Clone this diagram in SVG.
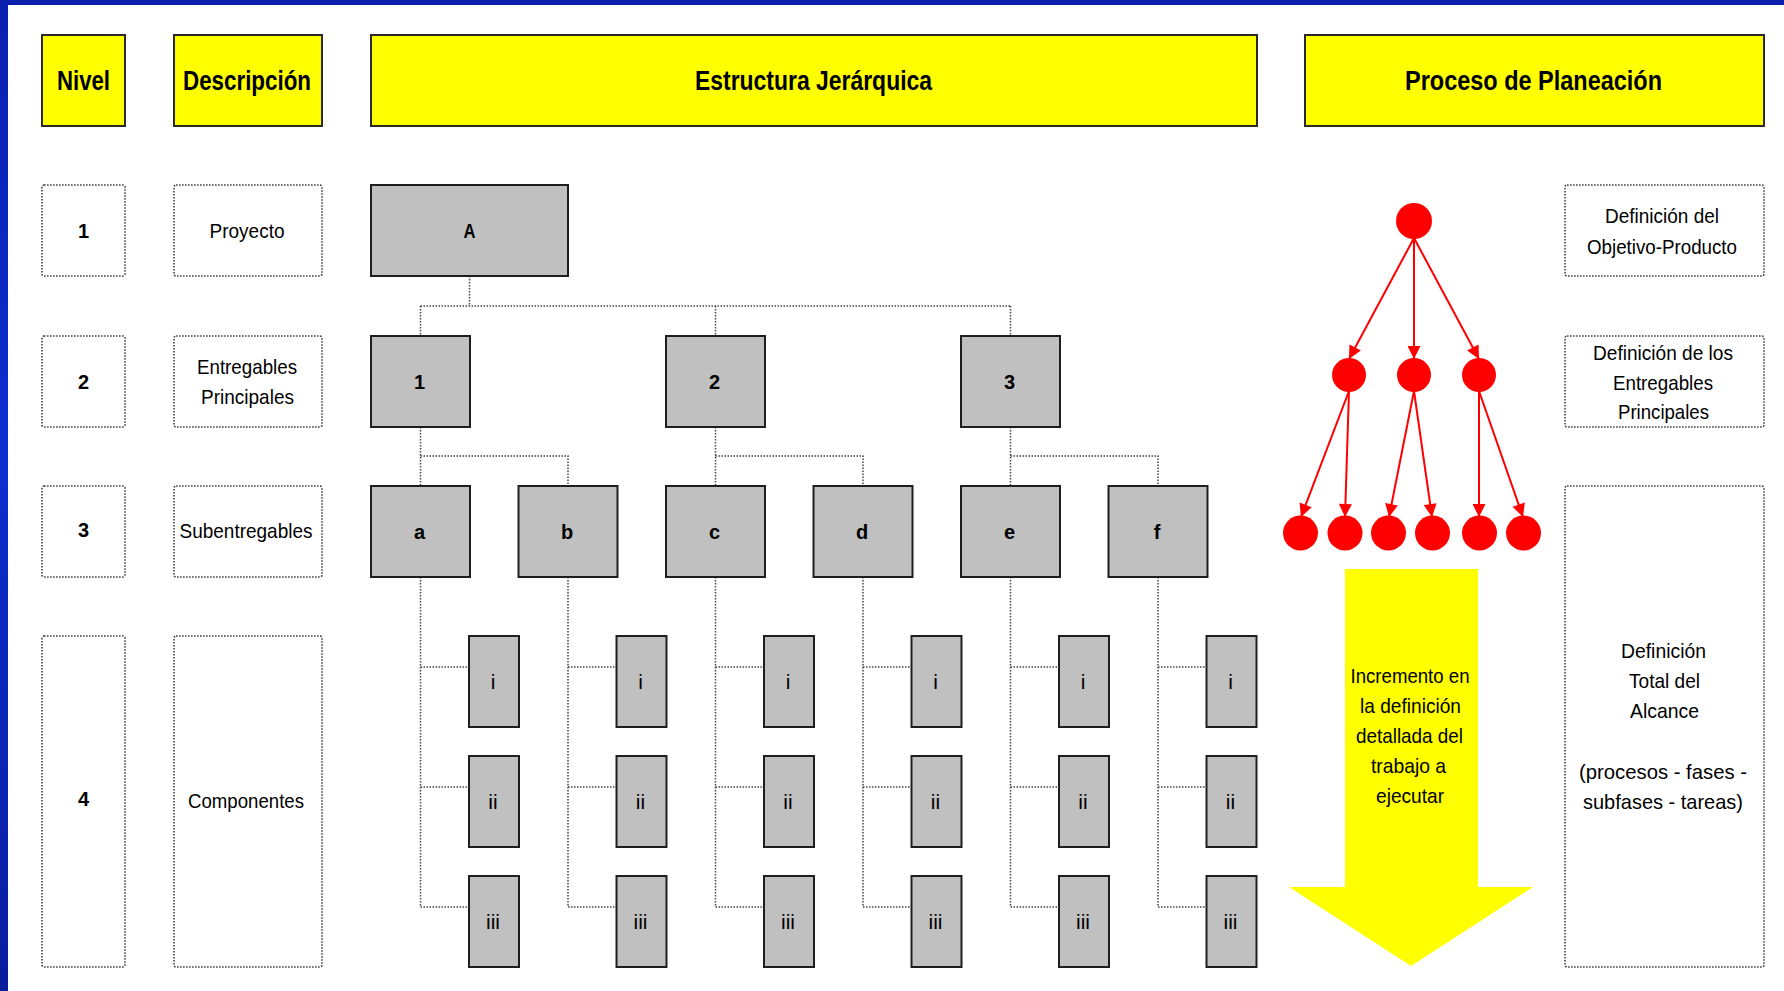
<svg xmlns="http://www.w3.org/2000/svg" width="1784" height="991" viewBox="0 0 1784 991">
<defs>
<style>
.hdr{fill:#ffff00;stroke:#2a2a2a;stroke-width:2}
.lvl{fill:#ffffff;stroke:#444;stroke-width:1.6;stroke-dasharray:1.6,1.4}
.node{fill:#c0c0c0;stroke:#1e1e1e;stroke-width:2}
.conn{fill:none;stroke:#444;stroke-width:1.5;stroke-dasharray:1.5,1.5}
.red{stroke:#ff0000;stroke-width:2;fill:none}
.dot{fill:#ff0000}
.th{font-family:"Liberation Sans",Arial,sans-serif;font-weight:bold;font-size:27px;fill:#000;text-anchor:middle;dominant-baseline:central}
.nb{font-family:"Liberation Sans",Arial,sans-serif;font-weight:bold;font-size:20px;fill:#000;text-anchor:middle;dominant-baseline:central}
.num{font-family:"Liberation Sans",Arial,sans-serif;font-weight:bold;font-size:20px;fill:#000;text-anchor:middle;dominant-baseline:central}
.tx{font-family:"Liberation Sans",Arial,sans-serif;font-size:21px;fill:#000;text-anchor:middle;dominant-baseline:central}
</style>
<linearGradient id="blue" x1="0" y1="0" x2="0" y2="1">
<stop offset="0" stop-color="#0a1fae"/>
<stop offset="0.45" stop-color="#0c2fd0"/>
<stop offset="1" stop-color="#081c9e"/>
</linearGradient>
<marker id="ah" viewBox="0 0 10 10" refX="10" refY="5" markerUnits="userSpaceOnUse" markerWidth="15" markerHeight="13" orient="auto">
<path d="M0,0 L10,5 L0,10 z" fill="#ff0000"/>
</marker>
</defs>
<rect x="0" y="0" width="1784" height="991" fill="#ffffff"/>
<rect x="0" y="0" width="1784" height="5" fill="#0a20aa"/>
<rect x="0" y="0" width="8" height="991" fill="url(#blue)"/>

<g id="headers">
<g id="h-nivel"><rect class="hdr" x="42" y="35" width="83" height="91"/><text class="th" x="83.5" y="80.5" textLength="53" lengthAdjust="spacingAndGlyphs">Nivel</text></g>
<g id="h-descripcion"><rect class="hdr" x="174" y="35" width="148" height="91"/><text class="th" x="247" y="80.5" textLength="128" lengthAdjust="spacingAndGlyphs">Descripción</text></g>
<g id="h-estructura"><rect class="hdr" x="371" y="35" width="886" height="91"/><text class="th" x="813.5" y="80.5" textLength="237" lengthAdjust="spacingAndGlyphs">Estructura Jerárquica</text></g>
<g id="h-proceso"><rect class="hdr" x="1305" y="35" width="459" height="91"/><text class="th" x="1533.5" y="80.5" textLength="257" lengthAdjust="spacingAndGlyphs">Proceso de Planeación</text></g>
</g>

<g id="levels">
<g id="lvl1"><rect class="lvl" x="42" y="185" width="83" height="91" rx="2"/><text class="num" x="83.5" y="230.5">1</text></g>
<g id="lvl2"><rect class="lvl" x="42" y="336" width="83" height="91" rx="2"/><text class="num" x="83.5" y="381.5">2</text></g>
<g id="lvl3"><rect class="lvl" x="42" y="486" width="83" height="91" rx="2"/><text class="num" x="83.5" y="530">3</text></g>
<g id="lvl4"><rect class="lvl" x="42" y="636" width="83" height="331" rx="2"/><text class="num" x="83.5" y="799">4</text></g>
<g id="desc1"><rect class="lvl" x="174" y="185" width="148" height="91" rx="2"/><text class="tx" x="247" y="230" textLength="75" lengthAdjust="spacingAndGlyphs">Proyecto</text></g>
<g id="desc2"><rect class="lvl" x="174" y="336" width="148" height="91" rx="2"/><text class="tx" x="247" y="366" textLength="100" lengthAdjust="spacingAndGlyphs">Entregables</text><text class="tx" x="247.5" y="396" textLength="93" lengthAdjust="spacingAndGlyphs">Principales</text></g>
<g id="desc3"><rect class="lvl" x="174" y="486" width="148" height="91" rx="2"/><text class="tx" x="246" y="530" textLength="133" lengthAdjust="spacingAndGlyphs">Subentregables</text></g>
<g id="desc4"><rect class="lvl" x="174" y="636" width="148" height="331" rx="2"/><text class="tx" x="246" y="800" textLength="116" lengthAdjust="spacingAndGlyphs">Componentes</text></g>
</g>

<g id="connectors">
<path class="conn" d="M469.5,276 V306 M420.5,306 H1010.5 M420.5,306 V336 M715.5,306 V336 M1010.5,306 V336"/>
<path class="conn" d="M420.5,427 V486 M420.5,456 H568 V486"/>
<path class="conn" d="M715.5,427 V486 M715.5,456 H863 V486"/>
<path class="conn" d="M1010.5,427 V486 M1010.5,456 H1158 V486"/>
<path class="conn" d="M420.5,577 V907 H469 M420.5,667 H469 M420.5,787 H469"/>
<path class="conn" d="M568,577 V907 H616.5 M568,667 H616.5 M568,787 H616.5"/>
<path class="conn" d="M715.5,577 V907 H764 M715.5,667 H764 M715.5,787 H764"/>
<path class="conn" d="M863,577 V907 H911.5 M863,667 H911.5 M863,787 H911.5"/>
<path class="conn" d="M1010.5,577 V907 H1059 M1010.5,667 H1059 M1010.5,787 H1059"/>
<path class="conn" d="M1158,577 V907 H1206.5 M1158,667 H1206.5 M1158,787 H1206.5"/>
</g>

<g id="nA"><rect class="node" x="371" y="185" width="197" height="91"/><text class="nb" x="469.5" y="230.5" textLength="12" lengthAdjust="spacingAndGlyphs">A</text></g>
<g id="n1"><rect class="node" x="371" y="336" width="99" height="91"/><text class="nb" x="419.5" y="381.5">1</text></g>
<g id="n2"><rect class="node" x="666" y="336" width="99" height="91"/><text class="nb" x="714.5" y="381.5">2</text></g>
<g id="n3"><rect class="node" x="961" y="336" width="99" height="91"/><text class="nb" x="1009.5" y="381.5">3</text></g>
<g id="na"><rect class="node" x="371" y="486" width="99" height="91"/><text class="nb" x="419.5" y="531.5">a</text></g>
<g id="nb"><rect class="node" x="518.5" y="486" width="99" height="91"/><text class="nb" x="567" y="531.5">b</text></g>
<g id="nc"><rect class="node" x="666" y="486" width="99" height="91"/><text class="nb" x="714.5" y="531.5">c</text></g>
<g id="nd"><rect class="node" x="813.5" y="486" width="99" height="91"/><text class="nb" x="862" y="531.5">d</text></g>
<g id="ne"><rect class="node" x="961" y="486" width="99" height="91"/><text class="nb" x="1009.5" y="531.5">e</text></g>
<g id="nf"><rect class="node" x="1108.5" y="486" width="99" height="91"/><text class="nb" x="1157" y="531.5">f</text></g>

<g id="leaves">
<g id="la1"><rect class="node" x="469" y="636" width="50" height="91"/><text class="tx" x="493" y="681">i</text></g>
<g id="la2"><rect class="node" x="469" y="756" width="50" height="91"/><text class="tx" x="493" y="801">ii</text></g>
<g id="la3"><rect class="node" x="469" y="876" width="50" height="91"/><text class="tx" x="493" y="921">iii</text></g>
<g id="lb1"><rect class="node" x="616.5" y="636" width="50" height="91"/><text class="tx" x="640.5" y="681">i</text></g>
<g id="lb2"><rect class="node" x="616.5" y="756" width="50" height="91"/><text class="tx" x="640.5" y="801">ii</text></g>
<g id="lb3"><rect class="node" x="616.5" y="876" width="50" height="91"/><text class="tx" x="640.5" y="921">iii</text></g>
<g id="lc1"><rect class="node" x="764" y="636" width="50" height="91"/><text class="tx" x="788" y="681">i</text></g>
<g id="lc2"><rect class="node" x="764" y="756" width="50" height="91"/><text class="tx" x="788" y="801">ii</text></g>
<g id="lc3"><rect class="node" x="764" y="876" width="50" height="91"/><text class="tx" x="788" y="921">iii</text></g>
<g id="ld1"><rect class="node" x="911.5" y="636" width="50" height="91"/><text class="tx" x="935.5" y="681">i</text></g>
<g id="ld2"><rect class="node" x="911.5" y="756" width="50" height="91"/><text class="tx" x="935.5" y="801">ii</text></g>
<g id="ld3"><rect class="node" x="911.5" y="876" width="50" height="91"/><text class="tx" x="935.5" y="921">iii</text></g>
<g id="le1"><rect class="node" x="1059" y="636" width="50" height="91"/><text class="tx" x="1083" y="681">i</text></g>
<g id="le2"><rect class="node" x="1059" y="756" width="50" height="91"/><text class="tx" x="1083" y="801">ii</text></g>
<g id="le3"><rect class="node" x="1059" y="876" width="50" height="91"/><text class="tx" x="1083" y="921">iii</text></g>
<g id="lf1"><rect class="node" x="1206.5" y="636" width="50" height="91"/><text class="tx" x="1230.5" y="681">i</text></g>
<g id="lf2"><rect class="node" x="1206.5" y="756" width="50" height="91"/><text class="tx" x="1230.5" y="801">ii</text></g>
<g id="lf3"><rect class="node" x="1206.5" y="876" width="50" height="91"/><text class="tx" x="1230.5" y="921">iii</text></g>
</g>

<g id="red-tree">
<g id="red-arrows">
<line class="red" x1="1414" y1="238" x2="1349" y2="359" marker-end="url(#ah)"/>
<line class="red" x1="1414" y1="238" x2="1414" y2="359" marker-end="url(#ah)"/>
<line class="red" x1="1414" y1="238" x2="1479" y2="359" marker-end="url(#ah)"/>
<line class="red" x1="1349" y1="391" x2="1301" y2="517" marker-end="url(#ah)"/>
<line class="red" x1="1349" y1="391" x2="1345" y2="517" marker-end="url(#ah)"/>
<line class="red" x1="1414" y1="391" x2="1389" y2="517" marker-end="url(#ah)"/>
<line class="red" x1="1414" y1="391" x2="1432" y2="517" marker-end="url(#ah)"/>
<line class="red" x1="1479" y1="391" x2="1479" y2="517" marker-end="url(#ah)"/>
<line class="red" x1="1479" y1="391" x2="1523" y2="517" marker-end="url(#ah)"/>
</g>
<circle class="dot" cx="1414" cy="221" r="18"/>
<circle class="dot" cx="1349" cy="375" r="17"/>
<circle class="dot" cx="1414" cy="375" r="17"/>
<circle class="dot" cx="1479" cy="375" r="17"/>
<circle class="dot" cx="1300.5" cy="533" r="17.5"/>
<circle class="dot" cx="1345" cy="533" r="17.5"/>
<circle class="dot" cx="1388.5" cy="533" r="17.5"/>
<circle class="dot" cx="1432.5" cy="533" r="17.5"/>
<circle class="dot" cx="1479.5" cy="533" r="17.5"/>
<circle class="dot" cx="1523.5" cy="533" r="17.5"/>
</g>

<g id="yellow-arrow">
<polygon points="1345,569 1478,569 1478,887 1533,887 1411,966 1289,887 1345,887" fill="#ffff00"/>
<text class="tx" x="1410" y="675" textLength="119" lengthAdjust="spacingAndGlyphs">Incremento en</text>
<text class="tx" x="1410.5" y="705" textLength="101" lengthAdjust="spacingAndGlyphs">la definición</text>
<text class="tx" x="1409.5" y="735" textLength="107" lengthAdjust="spacingAndGlyphs">detallada del</text>
<text class="tx" x="1408.5" y="765" textLength="75" lengthAdjust="spacingAndGlyphs">trabajo a</text>
<text class="tx" x="1410" y="795" textLength="68" lengthAdjust="spacingAndGlyphs">ejecutar</text>
</g>

<g id="plan">
<g id="p1"><rect class="lvl" x="1565" y="185" width="199" height="91" rx="2"/><text class="tx" x="1662" y="215" textLength="114" lengthAdjust="spacingAndGlyphs">Definición del</text><text class="tx" x="1662" y="246" textLength="150" lengthAdjust="spacingAndGlyphs">Objetivo-Producto</text></g>
<g id="p2"><rect class="lvl" x="1565" y="336" width="199" height="91" rx="2"/><text class="tx" x="1663" y="352" textLength="140" lengthAdjust="spacingAndGlyphs">Definición de los</text><text class="tx" x="1663" y="382" textLength="100" lengthAdjust="spacingAndGlyphs">Entregables</text><text class="tx" x="1663.5" y="411" textLength="91" lengthAdjust="spacingAndGlyphs">Principales</text></g>
<g id="p3"><rect class="lvl" x="1565" y="486" width="199" height="481" rx="2"/><text class="tx" x="1663.5" y="650" textLength="85" lengthAdjust="spacingAndGlyphs">Definición</text><text class="tx" x="1664.5" y="680" textLength="71" lengthAdjust="spacingAndGlyphs">Total del</text><text class="tx" x="1664.5" y="710" textLength="69" lengthAdjust="spacingAndGlyphs">Alcance</text><text class="tx" x="1663" y="771" textLength="168" lengthAdjust="spacingAndGlyphs">(procesos - fases -</text><text class="tx" x="1663" y="801" textLength="160" lengthAdjust="spacingAndGlyphs">subfases - tareas)</text></g>
</g>
</svg>
